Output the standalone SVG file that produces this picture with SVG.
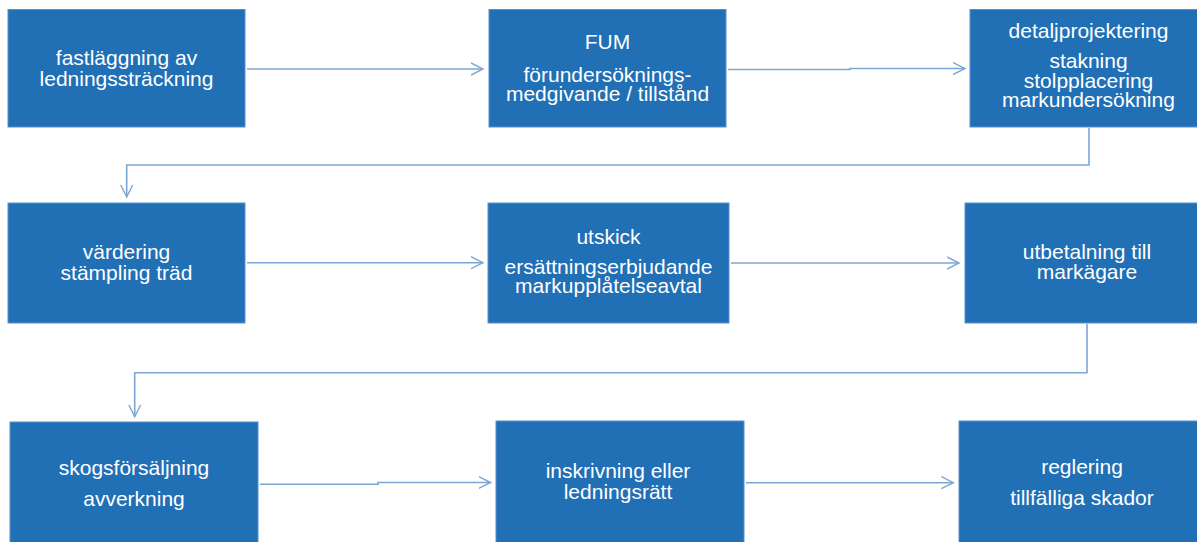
<svg xmlns="http://www.w3.org/2000/svg" width="1197" height="542" viewBox="0 0 1197 542">
<style>
.box{fill:#2170B5;stroke:#5A8FCB;stroke-width:1}
.t{font-family:"Liberation Sans",Arial,sans-serif;font-size:21px;fill:#FFFFFF;text-anchor:middle}
.c{fill:none;stroke:#7EA6D2;stroke-width:1.6}
</style>
<defs>
<marker id="ah" viewBox="0 0 14 14" refX="12" refY="7" markerWidth="14" markerHeight="14" markerUnits="userSpaceOnUse" orient="auto">
<path d="M0,1 L12,7 L0,13" fill="none" stroke="#7EA6D2" stroke-width="1.4"/>
</marker>
</defs>
<rect width="1197" height="542" fill="#FFFFFF"/>
<g id="connectors">
<path class="c" d="M247,69 H483" marker-end="url(#ah)"/>
<path class="c" d="M728,69.5 H850 V68.5 H965" marker-end="url(#ah)"/>
<path class="c" d="M1089,128 V165 H126.7 V197" marker-end="url(#ah)"/>
<path class="c" d="M247,262.7 H483" marker-end="url(#ah)"/>
<path class="c" d="M731,263 H959" marker-end="url(#ah)"/>
<path class="c" d="M1087,324 V372.7 H134.7 V416.7" marker-end="url(#ah)"/>
<path class="c" d="M260,484.3 H378 V482.5 H490.6" marker-end="url(#ah)"/>
<path class="c" d="M746,482.7 H953.4" marker-end="url(#ah)"/>
</g>
<g id="n1"><rect class="box" x="8" y="9.5" width="237" height="117.5"/>
<text class="t" x="126.5" y="65">fastläggning av</text><text class="t" x="126.5" y="86">ledningssträckning</text></g>
<g id="n2"><rect class="box" x="489" y="9.5" width="237" height="117.5"/>
<text class="t" x="607.5" y="49">FUM</text><text class="t" x="607.5" y="82">förundersöknings-</text><text class="t" x="607.5" y="101">medgivande / tillstånd</text></g>
<g id="n3"><rect class="box" x="970" y="9.5" width="238" height="117.5"/>
<text class="t" x="1088.5" y="38">detaljprojektering</text><text class="t" x="1088.5" y="68">stakning</text><text class="t" x="1088.5" y="87.5">stolpplacering</text><text class="t" x="1088.5" y="107">markundersökning</text></g>
<g id="n4"><rect class="box" x="8" y="203" width="237" height="120"/>
<text class="t" x="126.5" y="259">värdering</text><text class="t" x="126.5" y="280">stämpling träd</text></g>
<g id="n5"><rect class="box" x="488" y="203" width="241" height="120"/>
<text class="t" x="608.5" y="244">utskick</text><text class="t" x="608.5" y="274">ersättningserbjudande</text><text class="t" x="608.5" y="293">markupplåtelseavtal</text></g>
<g id="n6"><rect class="box" x="965" y="203" width="244" height="120"/>
<text class="t" x="1087" y="259">utbetalning till</text><text class="t" x="1087" y="279">markägare</text></g>
<g id="n7"><rect class="box" x="10" y="422" width="248" height="125"/>
<text class="t" x="134" y="475">skogsförsäljning</text><text class="t" x="134" y="506">avverkning</text></g>
<g id="n8"><rect class="box" x="496" y="421" width="248" height="126"/>
<text class="t" x="618" y="478">inskrivning eller</text><text class="t" x="618" y="499">ledningsrätt</text></g>
<g id="n9"><rect class="box" x="959" y="421" width="246" height="126"/>
<text class="t" x="1082" y="474">reglering</text><text class="t" x="1082" y="505">tillfälliga skador</text></g>
</svg>
